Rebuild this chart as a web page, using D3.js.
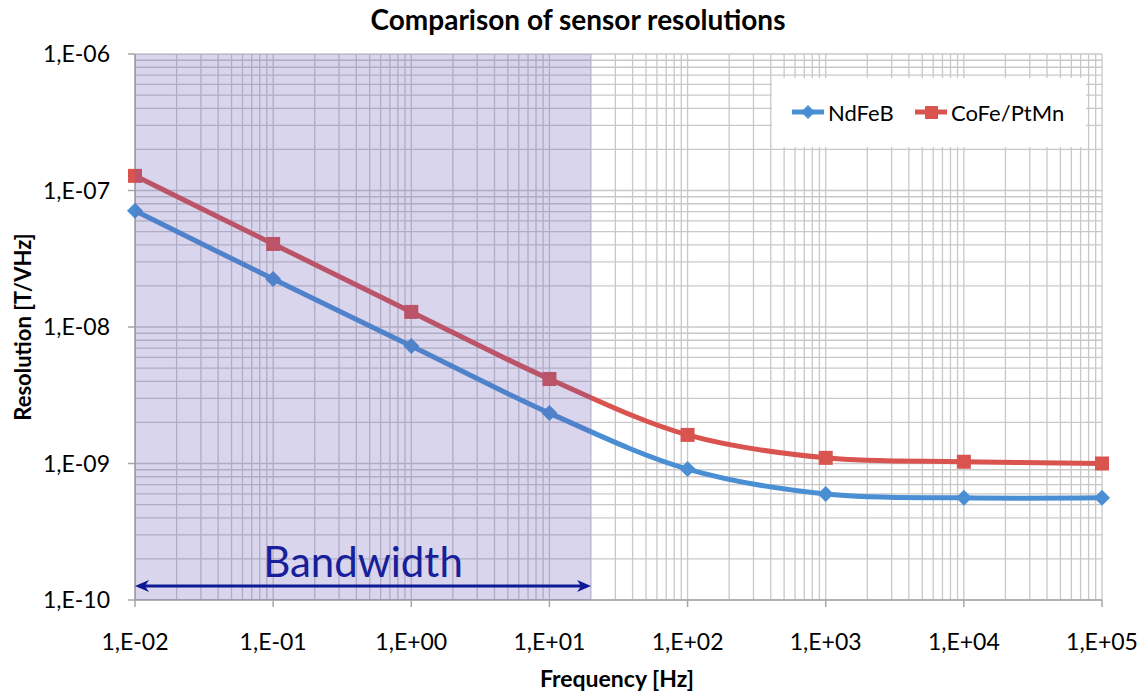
<!DOCTYPE html>
<html><head><meta charset="utf-8">
<script src="https://cdn.jsdelivr.net/npm/d3@7"></script>
<style>body{margin:0;background:#fff;} svg{display:block;}</style>
</head><body>
<svg id="c" width="1142" height="693"></svg>
<script>
const freqs = [1e-2, 1e-1, 1e0, 1e1, 1e2, 1e3, 1e4, 1e5];
const ndfeb = [7.1e-8, 2.25e-8, 7.25e-9, 2.34e-9, 9.1e-10, 5.98e-10, 5.6e-10, 5.6e-10];
const cofe  = [1.28e-7, 4.06e-8, 1.29e-8, 4.16e-9, 1.62e-9, 1.10e-9, 1.03e-9, 1.0e-9];
const xTickLabels = ["1,E-02","1,E-01","1,E+00","1,E+01","1,E+02","1,E+03","1,E+04","1,E+05"];
const yTickValues = [1e-10, 1e-9, 1e-8, 1e-7, 1e-6];
const yTickLabels = ["1,E-10","1,E-09","1,E-08","1,E-07","1,E-06"];
const bandwidth = [1e-2, 20];
const seriesNames = ["NdFeB", "CoFe/PtMn"];

const FONT = "Lato, 'Open Sans', sans-serif";
const svg = d3.select("#c");
const L = 135, R = 1102, T = 54, B = 600;
const x = d3.scaleLog().domain([1e-2, 1e5]).range([L, R]);
const y = d3.scaleLog().domain([1e-10, 1e-6]).range([B, T]);

// grid
const xGrid = [], yGrid = [];
for (let e = -2; e < 5; e++) for (let m = 1; m <= 9; m++) xGrid.push(m * Math.pow(10, e));
xGrid.push(1e5);
for (let e = -10; e < -6; e++) for (let m = 1; m <= 9; m++) yGrid.push(m * Math.pow(10, e));
yGrid.push(1e-6);
const g = svg.append("g");
g.selectAll(".vg").data(xGrid).join("line")
  .attr("x1", d => x(d)).attr("x2", d => x(d)).attr("y1", T).attr("y2", B)
  .attr("stroke", "#c8c8c8").attr("stroke-width", 1.3);
g.selectAll(".hg").data(yGrid).join("line")
  .attr("x1", L).attr("x2", R).attr("y1", d => y(d)).attr("y2", d => y(d))
  .attr("stroke", "#c8c8c8").attr("stroke-width", 1.3);

// axes lines & ticks
svg.append("line").attr("x1", L).attr("x2", R).attr("y1", B).attr("y2", B).attr("stroke", "#a6a6a6").attr("stroke-width", 1.5);
svg.append("line").attr("x1", L).attr("x2", L).attr("y1", T).attr("y2", B).attr("stroke", "#a6a6a6").attr("stroke-width", 1.5);
svg.selectAll(".xt").data(freqs).join("line")
  .attr("x1", d => x(d)).attr("x2", d => x(d)).attr("y1", B).attr("y2", B + 7)
  .attr("stroke", "#a6a6a6").attr("stroke-width", 1.5);
svg.selectAll(".yt").data(yTickValues).join("line")
  .attr("x1", L - 7).attr("x2", L).attr("y1", d => y(d)).attr("y2", d => y(d))
  .attr("stroke", "#a6a6a6").attr("stroke-width", 1.5);

svg.selectAll(".xl").data(freqs).join("text")
  .attr("x", d => x(d)).attr("y", 650).attr("text-anchor", "middle")
  .attr("font-family", FONT).attr("font-size", 23).attr("fill", "#000")
  .text((d, i) => xTickLabels[i]);
svg.selectAll(".yl").data(yTickValues).join("text")
  .attr("x", 110).attr("y", d => y(d) + 8).attr("text-anchor", "end")
  .attr("font-family", FONT).attr("font-size", 23).attr("fill", "#000")
  .text((d, i) => yTickLabels[i]);

// series
const colors = ["#4a8fd3", "#d9534f"];
const line = d3.line().x((d, i) => x(freqs[i])).y(d => y(d)).curve(d3.curveCatmullRom.alpha(0.5));
[ndfeb, cofe].forEach((s, k) => {
  svg.append("path").attr("d", line(s)).attr("fill", "none")
    .attr("stroke", colors[k]).attr("stroke-width", 5);
});
// markers
svg.selectAll(".dm").data(ndfeb).join("path")
  .attr("transform", (d, i) => `translate(${x(freqs[i])},${y(d)})`)
  .attr("d", "M0,-8L8,0L0,8L-8,0Z").attr("fill", colors[0]);
svg.selectAll(".sq").data(cofe).join("rect")
  .attr("x", (d, i) => x(freqs[i]) - 7).attr("y", d => y(d) - 7)
  .attr("width", 14).attr("height", 14).attr("fill", colors[1]);

// bandwidth overlay
svg.append("rect").attr("x", x(bandwidth[0])).attr("y", T)
  .attr("width", x(bandwidth[1]) - x(bandwidth[0])).attr("height", B - T)
  .attr("fill", "rgb(100,88,178)").attr("fill-opacity", 0.25);

// arrow
const ay = 586;
const arrowColor = "#0d1a96";
svg.append("line").attr("x1", x(bandwidth[0]) + 6).attr("x2", x(bandwidth[1]) - 6)
  .attr("y1", ay).attr("y2", ay).attr("stroke", arrowColor).attr("stroke-width", 3);
svg.append("path").attr("d", `M${x(bandwidth[0])},${ay}l14,-6l-4,6l4,6z`).attr("fill", arrowColor);
svg.append("path").attr("d", `M${x(bandwidth[1])},${ay}l-14,-6l4,6l-4,6z`).attr("fill", arrowColor);
svg.append("text").attr("x", 363).attr("y", 577).attr("text-anchor", "middle")
  .attr("font-family", FONT).attr("font-size", 42).attr("fill", "#17209a").text("Bandwidth");

// legend
const lg = svg.append("g");
lg.append("rect").attr("x", 772).attr("y", 78).attr("width", 314).attr("height", 69).attr("fill", "#fff");
const lx = [792, 915];
seriesNames.forEach((n, k) => {
  lg.append("line").attr("x1", lx[k]).attr("x2", lx[k] + 32).attr("y1", 112).attr("y2", 112)
    .attr("stroke", colors[k]).attr("stroke-width", 5);
  if (k === 0) lg.append("path").attr("transform", `translate(${lx[k] + 16},112)`).attr("d", "M0,-7L7,0L0,7L-7,0Z").attr("fill", colors[k]);
  else lg.append("rect").attr("x", lx[k] + 10).attr("y", 106).attr("width", 13).attr("height", 13).attr("fill", colors[k]);
  lg.append("text").attr("x", lx[k] + 36).attr("y", 121).attr("font-family", FONT).attr("font-size", 22)
    .attr("fill", "#000").text(n);
});

// titles
svg.append("text").attr("x", 578).attr("y", 30).attr("text-anchor", "middle")
  .attr("font-family", FONT).attr("font-weight", "bold").attr("font-size", 28).text("Comparison of sensor resolutions");
svg.append("text").attr("x", 617).attr("y", 687).attr("text-anchor", "middle")
  .attr("font-family", FONT).attr("font-weight", "bold").attr("font-size", 23).text("Frequency [Hz]");
svg.append("text").attr("transform", "translate(31,327) rotate(-90)").attr("text-anchor", "middle")
  .attr("font-family", FONT).attr("font-weight", "bold").attr("font-size", 22).text("Resolution [T/VHz]");
</script>
</body></html>
